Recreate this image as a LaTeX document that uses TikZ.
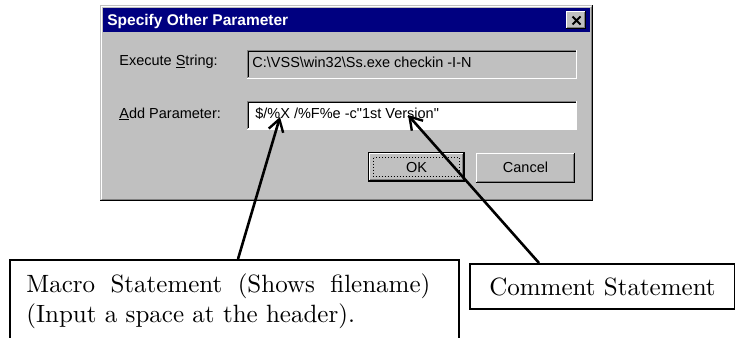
\documentclass[tikz,border=0pt]{standalone}
\usepackage{fontspec}
\usetikzlibrary{arrows.meta}
\newfontfamily\winfont{Liberation Sans}
\newfontfamily\notefont[Extension=.otf]{lmroman10-regular}
\definecolor{wingray}{RGB}{192,192,192}
\definecolor{windark}{RGB}{128,128,128}
\definecolor{winnavy}{RGB}{0,0,128}

\tikzset{every picture/.style={line width=0.75pt}}

\begin{document}
\begin{tikzpicture}[x=1pt,y=1pt,yscale=-1,xscale=1,
  wintext/.style={inner sep=0pt,font=\winfont\fontsize{14.5}{17}\selectfont},
  titletext/.style={inner sep=0pt,font=\winfont\bfseries\fontsize{15.5}{18}\selectfont,color=white},
  notetext/.style={inner sep=0pt,font=\notefont\fontsize{25}{30}\selectfont},
  notebox/.style={draw,line width=2pt,inner sep=0pt},
  pointer/.style={line width=2.6pt,-{Straight Barb[length=12pt,width=15pt,line width=2.4pt]}},
  lightedge/.style={draw=white,line width=1pt},
  darkedge/.style={draw=black,line width=1pt},
  shadeedge/.style={draw=windark,line width=1pt}]
%set diagram to 735 x 337
\useasboundingbox (0,0) rectangle (735,337);
\clip (0,0) rectangle (735,337);
\fill [white] (0,0) rectangle (735,337);

%Shape: Rectangle [dialog body]
\fill [wingray] (100,5) rectangle (593,201);
\draw [lightedge] (101.5,199) -- (101.5,6.5) -- (591,6.5);
\draw [darkedge] (100,200.5) -- (592.5,200.5) -- (592.5,5);
\draw [shadeedge] (102,199.5) -- (591.5,199.5) -- (591.5,7);
%Shape: Rectangle [title bar]
\fill [winnavy] (103,8) rectangle (590,32);
%Shape: Rectangle [close button]
\fill [wingray] (566,11) rectangle (586,29);
\draw [lightedge] (566.5,28) -- (566.5,11.5) -- (585,11.5);
\draw [darkedge] (566,28.5) -- (585.5,28.5) -- (585.5,11);
\draw [shadeedge] (567,27.5) -- (584.5,27.5) -- (584.5,12);
\draw [line width=2pt] (572.5,16.5) -- (580.5,24.5) (580.5,16.5) -- (572.5,24.5);

%Shape: Rectangle [execute field]
\fill [wingray] (247,50) rectangle (577,79);
\draw [shadeedge] (247.5,78) -- (247.5,50.5) -- (577,50.5);
\draw [darkedge] (248.5,77) -- (248.5,51.5) -- (576,51.5);
\draw [lightedge] (247,78.5) -- (576.5,78.5) -- (576.5,50);
%Shape: Rectangle [parameter field]
\fill [white] (247,101) rectangle (577,130);
\draw [shadeedge] (247.5,129) -- (247.5,101.5) -- (577,101.5);
\draw [darkedge] (248.5,128) -- (248.5,102.5) -- (576,102.5);
\draw [lightedge] (247,129.5) -- (576.5,129.5) -- (576.5,101);

%Shape: Rectangle [OK button]
\fill [wingray] (368,152) rectangle (465,182);
\draw [darkedge] (368.5,152.5) rectangle (464.5,181.5);
\draw [lightedge] (369.5,180) -- (369.5,153.5) -- (463,153.5);
\draw [darkedge] (369,180.5) -- (463.5,180.5) -- (463.5,153);
\draw [shadeedge] (370,179.5) -- (462.5,179.5) -- (462.5,154);
\draw [dotted,line width=1pt] (373.5,157.5) rectangle (459.5,176.5);
%Shape: Rectangle [Cancel button]
\fill [wingray] (476,153) rectangle (575,183);
\draw [lightedge] (476.5,182) -- (476.5,153.5) -- (574,153.5);
\draw [darkedge] (476,182.5) -- (574.5,182.5) -- (574.5,153);
\draw [shadeedge] (477,181.5) -- (573.5,181.5) -- (573.5,154);

% Text Node
\draw (107,26) node (titlelabel) [anchor=base west,titletext] {Specify Other Parameter};
% Text Node
\draw (119,66) node (execlabel) [anchor=base west,wintext] {Execute \underline{S}tring:};
% Text Node
\draw (252,67) node (execvalue) [anchor=base west,wintext] {C:\textbackslash VSS\textbackslash win32\textbackslash Ss.exe checkin -I-N};
% Text Node
\draw (119,118) node (paramlabel) [anchor=base west,wintext] {\underline{A}dd Parameter:};
% Text Node
\draw (255,118) node (paramvalue) [anchor=base west,wintext] {\$/\%X /\%F\%e -c"1st Version"};
% Text Node
\draw (416.5,172) node (oklabel) [anchor=base,wintext] {OK};
% Text Node
\draw (525.5,172) node (cancellabel) [anchor=base,wintext] {Cancel};

%Shape: Rectangle [macro note]
\draw (9,259) node (macrobox) [notebox,anchor=north west,minimum width=449,minimum height=100] {};
% Text Node
\draw (26,292) node (macroline) [anchor=base west,notetext] {\makebox[404pt][s]{Macro Statement (Shows filename)}};
% Text Node
\draw (26,322) node (headerline) [anchor=base west,notetext] {(Input a space at the header).};
%Shape: Rectangle [comment note]
\draw (469,263) node (commentbox) [notebox,anchor=north west,minimum width=265,minimum height=45,notetext] {Comment Statement};

%Straight Lines [pointers]
\coordinate (macrotip) at (280,117);
\coordinate (commenttip) at (408,115);
\draw [pointer] ([xshift=3.5]macrobox.north) -- (macrotip);
\draw [pointer] ([xshift=-63.5]commentbox.north) -- (commenttip);

\end{tikzpicture}
\end{document}
